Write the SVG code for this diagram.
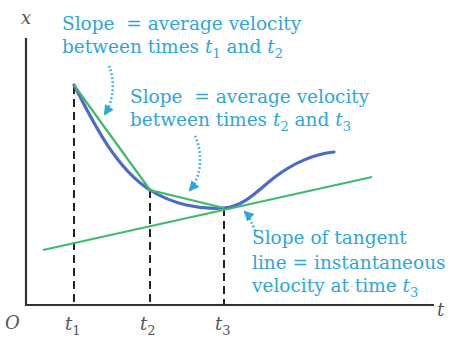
<svg xmlns="http://www.w3.org/2000/svg" width="449" height="339" viewBox="0 0 449 339">
<defs>
<style>
.ann{font-family:"DejaVu Serif",serif;font-size:18.5px;fill:#2ea6dc;white-space:pre}
.ax{font-family:"DejaVu Serif",serif;font-size:18px;fill:#555;font-style:italic}
.it{font-style:italic}
.sub{font-size:13px;font-style:normal}
.dash{stroke:#222;stroke-width:2;stroke-dasharray:8 5;fill:none}
.dot{stroke:#2ea6dc;stroke-width:2.6;stroke-dasharray:1.5 2.5;fill:none}
</style>
<marker id="ah" viewBox="0 0 10 10" refX="8" refY="5" markerWidth="4" markerHeight="4" orient="auto">
<path d="M0,0 L10,5 L0,10 Z" fill="#2ea6dc"/>
</marker>
</defs>
<rect width="449" height="339" fill="#fff"/>
<g id="axes">
<path d="M26,38 V305 H434" stroke="#333" stroke-width="2.2" fill="none"/>
<text class="ax" x="21" y="24">x</text>
<text class="ax" x="437" y="316">t</text>
<text class="ax" x="5" y="329">O</text>
</g>
<g id="guides">
<path class="dash" d="M74,86 V305"/>
<path class="dash" d="M150,190 V305"/>
<path class="dash" d="M224,208 V305"/>
<text class="ax" x="65" y="330">t<tspan class="sub" dy="5">1</tspan></text>
<text class="ax" x="140" y="330">t<tspan class="sub" dy="5">2</tspan></text>
<text class="ax" x="215" y="330">t<tspan class="sub" dy="5">3</tspan></text>
</g>
<g id="curve">
<path d="M74,85 C92,120 115,168 150,190 C172,204 200,210 224,208 C245,206 258,190 275,177 C295,162 315,154 334,152" stroke="#4a6cc8" stroke-width="3.2" fill="none" stroke-linecap="round"/>
</g>
<g id="connectors">
<path d="M74,85 L150,190 L224,208" stroke="#3dbb6a" stroke-width="2.2" fill="none"/>
<path d="M43,250 L372,177" stroke="#3dbb6a" stroke-width="2.2" fill="none"/>
<path class="dot" d="M109,66 C115,80 114,100 105,114" marker-end="url(#ah)"/>
<path class="dot" d="M195,136 C202,150 203,175 190,190" marker-end="url(#ah)"/>
<path class="dot" d="M255,231 C252,224 250,217 245,212" marker-end="url(#ah)"/>
</g>
<g id="label1">
<text class="ann" x="62" y="30" xml:space="preserve">Slope  = average velocity</text>
<text class="ann" x="62" y="53" xml:space="preserve">between times <tspan class="it">t</tspan><tspan class="sub" dy="5">1</tspan><tspan dy="-5"> and </tspan><tspan class="it">t</tspan><tspan class="sub" dy="5">2</tspan></text>
</g>
<g id="label2">
<text class="ann" x="130" y="103" xml:space="preserve">Slope  = average velocity</text>
<text class="ann" x="130" y="126" xml:space="preserve">between times <tspan class="it">t</tspan><tspan class="sub" dy="5">2</tspan><tspan dy="-5"> and </tspan><tspan class="it">t</tspan><tspan class="sub" dy="5">3</tspan></text>
</g>
<g id="label3">
<text class="ann" x="252" y="244">Slope of tangent</text>
<text class="ann" x="252" y="269">line = instantaneous</text>
<text class="ann" x="252" y="292" xml:space="preserve">velocity at time <tspan class="it">t</tspan><tspan class="sub" dy="5">3</tspan></text>
</g>
</svg>
